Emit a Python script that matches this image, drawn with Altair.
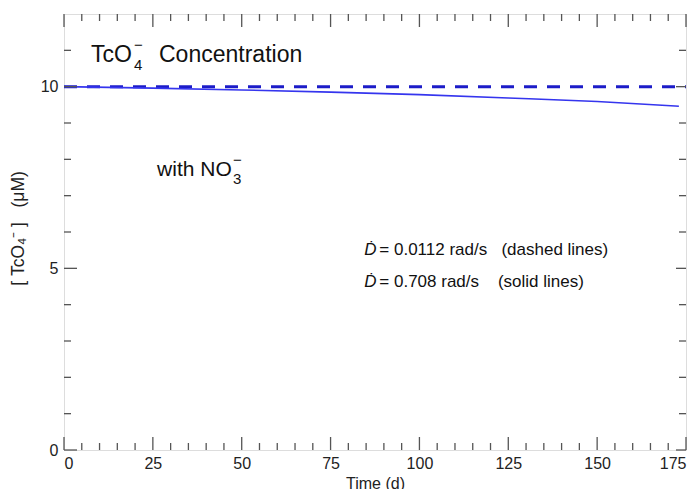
import altair as alt
import pandas as pd

# ---- data ----
time_solid = [0, 25, 50, 75, 100, 125, 150, 173]
conc_solid = [10.0, 9.96, 9.91, 9.85, 9.78, 9.69, 9.59, 9.46]   # D = 0.708 rad/s
time_dashed = [0, 175]
conc_dashed = [10.0, 10.0]                                       # D = 0.0112 rad/s

x_ticks = [0, 25, 50, 75, 100, 125, 150, 175]
x_minor = [v for v in range(5, 175, 5) if v % 25 != 0]
y_ticks = [0, 5, 10]
y_minor = [v for v in range(1, 12) if v % 5 != 0]

W, H = 622, 436
FONT = "Liberation Sans"
BLUE_DASH = "#1c1cc8"
BLUE_SOLID = "#3535ee"
FRAME = "#555555"
NB = "\u00a0"

xs = alt.Scale(domain=[0, 175], nice=False, zero=False)
ys = alt.Scale(domain=[0, 12], nice=False, zero=False)

solid_df = pd.DataFrame({"t": time_solid, "c": conc_solid})
dash_df = pd.DataFrame({"t": time_dashed, "c": conc_dashed})

base_x = alt.X("t:Q", scale=xs,
               axis=alt.Axis(values=x_ticks, ticks=False, tickSize=0, domain=False, grid=False,
                             labelFontSize=16, labelPadding=5, labelColor="#222", labelFont=FONT,
                             title="Time (d)", titleFont=FONT, titleFontSize=16, titleFontWeight="normal",
                             titleColor="#222", titleX=W / 2, titleY=33, titleBaseline="middle",
                             titleAnchor="middle"))
base_y = alt.Y("c:Q", scale=ys,
               axis=alt.Axis(values=y_ticks, ticks=False, tickSize=0, domain=False, grid=False,
                             labelFontSize=16, labelPadding=6, labelColor="#222", labelFont=FONT,
                             title=f"[{NB}TcO₄⁻{NB}]{NB}{NB}{NB}(μM)", titleFont=FONT, titleFontSize=17.5,
                             titleFontWeight="normal", titleColor="#222", titleX=-46, titleY=214,
                             titleBaseline="middle", titleAlign="center", titleAngle=270))

dashed = alt.Chart(dash_df).mark_line(color=BLUE_DASH, strokeWidth=3, strokeDash=[13, 10]).encode(
    x=base_x, y=base_y)
solid = alt.Chart(solid_df).mark_line(color=BLUE_SOLID, strokeWidth=1.6, interpolate="monotone").encode(
    x="t:Q", y="c:Q")

# inward ticks
def xt(vals, length, top):
    df = pd.DataFrame({"t": vals})
    y0 = 0 if top else H
    y1 = length if top else H - length
    return alt.Chart(df).mark_rule(color=FRAME, strokeWidth=1.3).encode(
        x=alt.X("t:Q", scale=xs), y=alt.value(y0), y2=alt.value(y1))

def yt(vals, length, right):
    df = pd.DataFrame({"c": vals})
    x0 = W if right else 0
    x1 = W - length if right else length
    return alt.Chart(df).mark_rule(color=FRAME, strokeWidth=1.3).encode(
        y=alt.Y("c:Q", scale=ys), x=alt.value(x0), x2=alt.value(x1))

ticks = [xt(x_ticks, 13, False), xt(x_minor, 7, False), xt(x_ticks, 13, True), xt(x_minor, 7, True),
         yt(y_ticks, 13, False), yt(y_minor, 7, False), yt(y_ticks, 10, True), yt(y_minor, 7, True)]

# annotations (position in data units)
def txt(s, t, c, size, dx=0, dy=0, italic=False):
    return alt.Chart(pd.DataFrame({"t": [t], "c": [c], "s": [s]})).mark_text(
        align="left", baseline="alphabetic", font=FONT, fontSize=size, color="#111",
        dx=dx, dy=dy, fontStyle="italic" if italic else "normal").encode(
        x=alt.X("t:Q", scale=xs), y=alt.Y("c:Q", scale=ys), text="s:N")

ann = [
    txt("TcO", 7.6, 10.69, 23),
    txt("4", 7.6, 10.69, 15, dx=43, dy=8),
    txt("−", 7.6, 10.69, 15, dx=43, dy=-12),
    txt("Concentration", 7.6, 10.69, 23, dx=68),
    txt("with NO", 26.2, 7.55, 21),
    txt("3", 26.2, 7.55, 15, dx=76, dy=8),
    txt("−", 26.2, 7.55, 15, dx=76, dy=-11),
    txt("Ḋ", 84.5, 5.36, 17, italic=True),
    txt(f"={NB}0.0112{NB}rad/s{NB}{NB}{NB}(dashed{NB}lines)", 84.5, 5.36, 17, dx=15),
    txt("Ḋ", 84.5, 4.48, 17, italic=True),
    txt(f"={NB}0.708{NB}rad/s{NB}{NB}{NB}{NB}(solid{NB}lines)", 84.5, 4.48, 17, dx=15),
]

chart = alt.layer(dashed, solid, *ticks, *ann).properties(
    width=W, height=H,
    autosize=alt.AutoSizeParams(type="none"),
    padding={"left": 56, "top": 6, "right": 6, "bottom": 42},
).configure_view(stroke=FRAME, strokeWidth=1.5).configure(background="white")

chart.save("out.html", embed_options={"renderer": "svg", "actions": False})
